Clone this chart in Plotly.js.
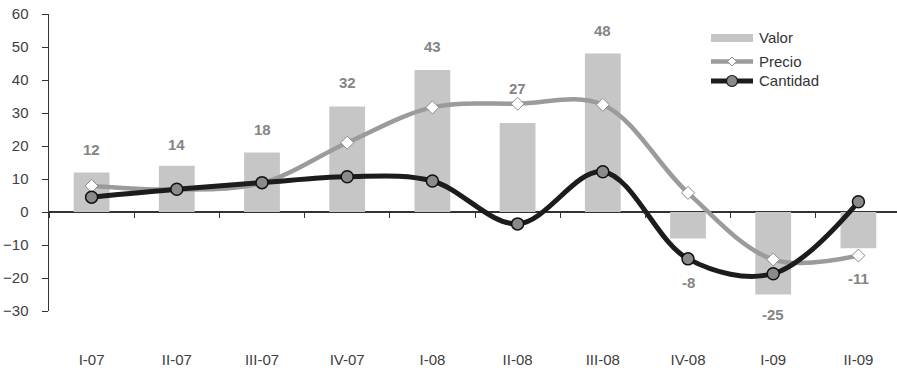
<!DOCTYPE html>
<html>
<head>
<meta charset="utf-8">
<script src="https://cdn.plot.ly/plotly-3.0.1.min.js"></script>
<style>
  html, body { margin: 0; padding: 0; background: #fff; }
  #chart { width: 897px; height: 368px; }
</style>
</head>
<body>
<div id="chart"></div>
<script>
// Quarterly variation (%) of value, price and quantity
const quarters = ['I-07', 'II-07', 'III-07', 'IV-07', 'I-08', 'II-08', 'III-08', 'IV-08', 'I-09', 'II-09'];
const valor    = [12, 14, 18, 32, 43, 27, 48, -8, -25, -11];
const precio   = [7.9, 6.8, 8.8, 21.0, 31.7, 32.8, 32.5, 5.8, -14.4, -13.2];
const cantidad = [4.5, 6.9, 8.9, 10.7, 9.4, -3.6, 12.2, -14.2, -18.7, 3.1];
const seriesNames = ['Valor', 'Precio', 'Cantidad'];

// vertical pixel offset of each value label from the end of its bar
const labelLift = [23, 21, 23, 24, 24, 34, 23, -44, -20, -30];

const barColor = '#c6c6c6';
const precioColor = '#9b9b9b';
const cantidadColor = '#1c1c1c';
const dotColor = '#8a8a8a';
const axisColor = '#333333';
const font = 'Liberation Sans, Arial, sans-serif';

// plot area in page pixels
const M = { l: 49, r: 0, t: 14, b: 57 };
const W = 897, H = 368;
const PW = W - M.l - M.r, PH = H - M.t - M.b;
const px = x => (x - M.l) / PW;
const py = y => (H - M.b - y) / PH;

const traces = [
  {
    type: 'bar', x: quarters, y: valor, name: seriesNames[0],
    xaxis: 'x', yaxis: 'y',
    marker: { color: barColor, line: { width: 0 } },
    hoverinfo: 'x+y'
  },
  {
    type: 'scatter', mode: 'lines+markers', x: quarters, y: precio, name: seriesNames[1],
    xaxis: 'x2', yaxis: 'y',
    line: { color: precioColor, width: 4.5, shape: 'spline', smoothing: 1 },
    marker: { symbol: 'diamond', size: 10, color: '#ffffff', line: { color: '#8a8a8a', width: 1 } }
  },
  {
    type: 'scatter', mode: 'lines+markers', x: quarters, y: cantidad, name: seriesNames[2],
    xaxis: 'x2', yaxis: 'y',
    line: { color: cantidadColor, width: 5, shape: 'spline', smoothing: 1 },
    marker: { symbol: 'circle', size: 12, color: dotColor, line: { color: '#111111', width: 1.5 } }
  }
];

// value labels over / under the bars
const annotations = valor.map((v, i) => ({
  x: quarters[i], y: v, xref: 'x', yref: 'y',
  text: String(v), showarrow: false,
  xanchor: 'center', yanchor: 'middle', yshift: labelLift[i],
  font: { family: font, size: 15, color: '#858585', weight: 'bold' }
}));

// legend drawn by hand: wide swatches with the markers in the middle
const legendY = [38, 61.5, 81];
const legendX0 = 711, legendX1 = 753, legendMid = 732;
seriesNames.forEach((n, i) => {
  annotations.push({
    x: px(757), y: py(legendY[i]), xref: 'paper', yref: 'paper',
    text: n, showarrow: false, xanchor: 'left', yanchor: 'middle',
    font: { family: font, size: 15, color: '#333333' }
  });
});

const d = 4.5;
const shapes = [
  { type: 'rect', xref: 'paper', yref: 'paper',
    x0: px(legendX0), x1: px(legendX1), y0: py(legendY[0] + 4), y1: py(legendY[0] - 4),
    fillcolor: barColor, line: { width: 0 } },
  { type: 'line', xref: 'paper', yref: 'paper',
    x0: px(legendX0), x1: px(legendX1), y0: py(legendY[1]), y1: py(legendY[1]),
    line: { color: precioColor, width: 4.5 } },
  { type: 'path', xref: 'paper', yref: 'paper',
    path: `M${px(legendMid - d)},${py(legendY[1])} L${px(legendMid)},${py(legendY[1] - d)} ` +
          `L${px(legendMid + d)},${py(legendY[1])} L${px(legendMid)},${py(legendY[1] + d)} Z`,
    fillcolor: '#ffffff', line: { color: '#8a8a8a', width: 1 } },
  { type: 'line', xref: 'paper', yref: 'paper',
    x0: px(legendX0), x1: px(legendX1), y0: py(legendY[2]), y1: py(legendY[2]),
    line: { color: cantidadColor, width: 5 } },
  { type: 'circle', xref: 'paper', yref: 'paper',
    x0: px(legendMid - 5.5), x1: px(legendMid + 5.5), y0: py(legendY[2] + 5.5), y1: py(legendY[2] - 5.5),
    fillcolor: dotColor, line: { color: '#111111', width: 1.2 } }
];

const xRange = [-0.5, -0.5 + PW / 85.2];

const layout = {
  width: W, height: H,
  margin: M,
  paper_bgcolor: '#ffffff', plot_bgcolor: '#ffffff',
  showlegend: false,
  bargap: 0.58,
  font: { family: font, size: 15, color: '#404040' },
  // category axis that draws the boundary ticks along the zero line
  xaxis: {
    type: 'category', range: xRange, fixedrange: true,
    anchor: 'free', position: 30 / 90,
    showline: false, showgrid: false, zeroline: false,
    ticks: 'outside', tickson: 'boundaries', ticklen: 5, tickwidth: 1, tickcolor: axisColor,
    showticklabels: false
  },
  // category labels along the bottom
  xaxis2: {
    type: 'category', range: xRange, fixedrange: true,
    overlaying: 'x', anchor: 'y', side: 'bottom',
    showline: false, showgrid: false, zeroline: false, ticks: '',
    ticklabelstandoff: 38,
    tickfont: { family: font, size: 15, color: '#404040' }
  },
  yaxis: {
    range: [-30, 60], dtick: 10, fixedrange: true,
    showline: true, linecolor: axisColor, linewidth: 1.5,
    showgrid: false,
    zeroline: true, zerolinecolor: axisColor, zerolinewidth: 1.5,
    ticks: 'outside', ticklen: 6, tickwidth: 1, tickcolor: axisColor,
    ticklabelstandoff: 10,
    tickfont: { family: font, size: 15, color: '#404040' }
  },
  annotations: annotations,
  shapes: shapes
};

Plotly.newPlot('chart', traces, layout, { displayModeBar: false, staticPlot: true });
</script>
</body>
</html>
